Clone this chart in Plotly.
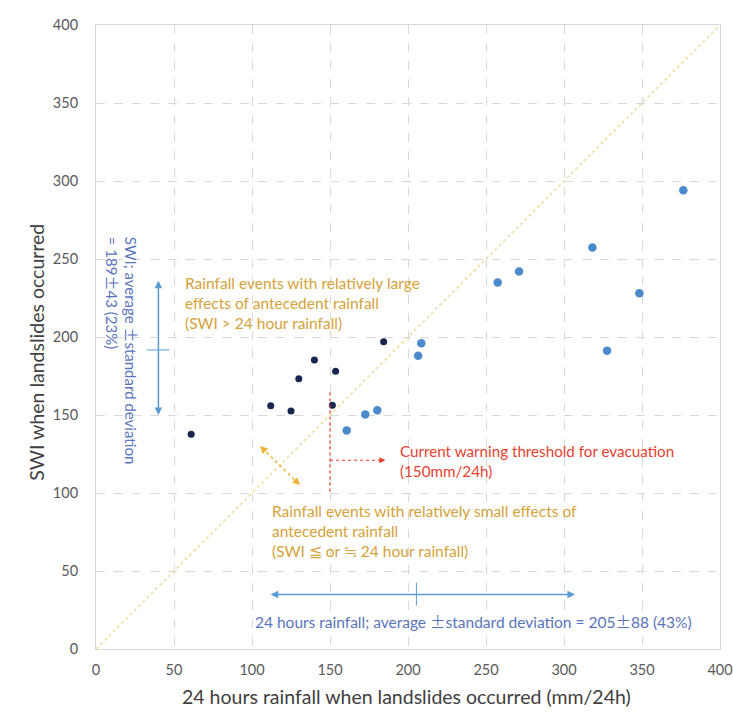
import plotly.graph_objects as go

# ---- data ----
rain_dark = [61, 112, 125, 130, 140, 151.5, 153.6, 184.4]
swi_dark = [137.6, 156, 152.6, 173.3, 185.3, 156.2, 178, 197]
rain_light = [160.7, 172.6, 180.3, 206.5, 208.5, 257.5, 271.2, 318.2, 327.6, 348.3, 376.5]
swi_light = [140, 150.4, 153, 188, 196, 235, 242, 257.3, 191.2, 228, 294]
diag = [0, 400]
ticks = [0, 50, 100, 150, 200, 250, 300, 350, 400]

FONT = "Lato"
ORANGE = "#D6A23A"
BLUE_TXT = "#5A74BE"
BLUE_ARR = "#5B9BD5"
RED = "#E8402F"
PM = '<span style="font-family:\'Noto Sans CJK JP\'">±</span>'

fig = go.Figure()
fig.add_trace(go.Scatter(x=diag, y=diag, mode="lines",
                         line=dict(color="#EEDC9A", width=1.5, dash="dot"),
                         hoverinfo="skip", showlegend=False))
fig.add_trace(go.Scatter(x=rain_light, y=swi_light, mode="markers",
                         marker=dict(color="#4C8BCB", size=8.5), showlegend=False))
fig.add_trace(go.Scatter(x=rain_dark, y=swi_dark, mode="markers",
                         marker=dict(color="#17264F", size=7), showlegend=False))

shapes = [
    dict(type="line", x0=32.5, x1=47, y0=191.7, y1=191.7, line=dict(color=BLUE_ARR, width=1)),
    dict(type="line", x0=205.4, x1=205.4, y0=28, y1=42.5, line=dict(color=BLUE_ARR, width=1)),
    dict(type="line", x0=150, x1=150, y0=101, y1=165, line=dict(color=RED, width=1.2, dash="dot")),
    dict(type="line", x0=150, x1=182, y0=121, y1=121, line=dict(color=RED, width=1.2, dash="dot")),
    dict(type="line", x0=106.5, x1=129.5, y0=128.8, y1=106.3, line=dict(color="#F0B232", width=1.5, dash="dot")),
]

ann = []
def arrow(x, y, ax, ay, color, width=1.5, side="end", head=2, size=1):
    ann.append(dict(x=x, y=y, ax=ax, ay=ay, xref="x", yref="y", axref="x", ayref="y",
                    showarrow=True, arrowhead=head, startarrowhead=head, arrowside=side,
                    arrowsize=size, startarrowsize=size, arrowwidth=width,
                    arrowcolor=color, text=""))

arrow(40, 236, 40, 149, BLUE_ARR, 1.5, "end+start")
arrow(307, 35, 111, 35, BLUE_ARR, 1.5, "end+start")
arrow(185.5, 121, 181, 121, RED, 1.2)
arrow(105.1, 130.1, 108, 127.3, "#F0B232", 1.5)
arrow(130.8, 105.1, 128, 107.8, "#F0B232", 1.5)

ann += [
    dict(x=55.6, y=221.6, xref="x", yref="y", xanchor="left", yanchor="middle", align="left",
         showarrow=False, font=dict(family=FONT, size=15.5, color=ORANGE),
         text="Rainfall events with relatively large<br>effects of antecedent rainfall<br>(SWI > 24 hour rainfall)"),
    dict(x=111.5, y=75.8, xref="x", yref="y", xanchor="left", yanchor="middle", align="left",
         showarrow=False, font=dict(family=FONT, size=15.5, color=ORANGE),
         text="Rainfall events with relatively small effects of<br>antecedent rainfall<br>(SWI ≦ or ≒ 24 hour rainfall)"),
    dict(x=193.8, y=120.4, xref="x", yref="y", xanchor="left", yanchor="middle", align="left",
         showarrow=False, font=dict(family=FONT, size=15.2, color=RED),
         text="Current warning threshold for evacuation<br>(150mm/24h)"),
    dict(x=241.9, y=18, xref="x", yref="y", xanchor="center", yanchor="middle",
         showarrow=False, font=dict(family=FONT, size=15.5, color=BLUE_TXT),
         text=f"24 hours rainfall; average {PM}standard deviation = 205{PM}88 (43%)"),
    dict(x=16.8, y=191, xref="x", yref="y", xanchor="center", yanchor="middle", align="left",
         textangle=90, showarrow=False, font=dict(family=FONT, size=15, color=BLUE_TXT),
         text=f"SWI; average {PM}standard deviation<br>= 189{PM}43 (23%)"),
    # axis titles
    dict(x=0.498, y=-0.0769, xref="paper", yref="paper", xanchor="center", yanchor="middle",
         showarrow=False, font=dict(family=FONT, size=19.5, color="#404040"),
         text="24 hours rainfall when landslides occurred (mm/24h)"),
    dict(x=-0.095, y=0.476, xref="paper", yref="paper", xanchor="center", yanchor="middle",
         textangle=-90, showarrow=False, font=dict(family=FONT, size=19.5, color="#404040"),
         text="SWI when landslides occurred"),
]

axis_common = dict(range=[0, 400], tickvals=ticks, showgrid=True, gridcolor="#D9D9D9",
                   griddash="dash", gridwidth=1, zeroline=False, showline=True, mirror=True,
                   linecolor="#D9D9D9", linewidth=1, ticks="", automargin=False,
                   tickfont=dict(family=FONT, size=14.5, color="#595959"))

fig.update_layout(
    width=733, height=720,
    margin=dict(l=96, r=13, t=25, b=71),
    paper_bgcolor="white", plot_bgcolor="white",
    shapes=shapes, annotations=ann,
    xaxis=dict(**axis_common, ticklabelstandoff=8),
    yaxis=dict(**axis_common, ticklabelstandoff=14),
)

fig.write_html("out.html", config={"displayModeBar": False},
               post_script="document.body.style.margin='0';")
